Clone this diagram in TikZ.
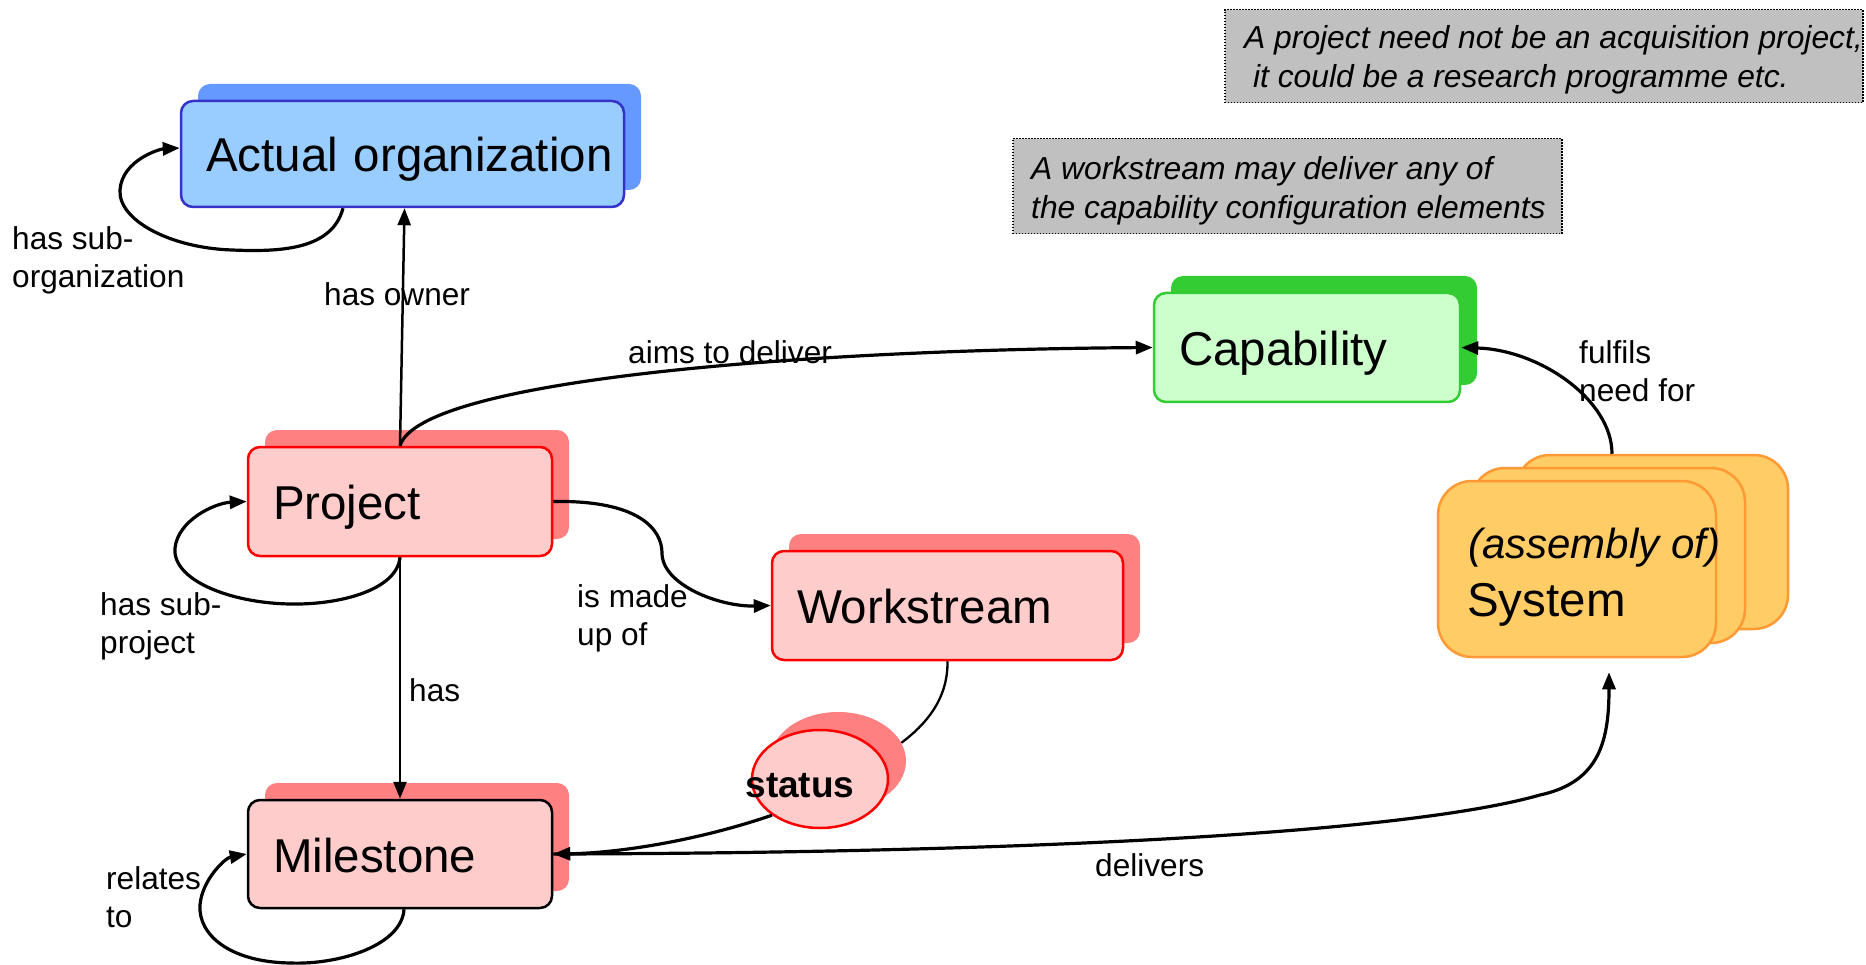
\documentclass[tikz,border=0pt]{standalone}
\usepackage{fontspec}
\setmainfont{Liberation Sans}
\usetikzlibrary{arrows.meta,shapes.geometric}
\definecolor{orgF}{HTML}{99CCFF}
\definecolor{orgD}{HTML}{3333CC}
\definecolor{orgB}{HTML}{6699FF}
\definecolor{redF}{HTML}{FFCCCC}
\definecolor{redD}{HTML}{FF0000}
\definecolor{redB}{HTML}{FF8080}
\definecolor{capF}{HTML}{CCFFCC}
\definecolor{capD}{HTML}{33CC33}
\definecolor{sysF}{HTML}{FFCC66}
\definecolor{sysD}{HTML}{FF9933}
\definecolor{noteF}{HTML}{C0C0C0}
\begin{document}
\begin{tikzpicture}[x=1pt,y=-1pt,
  front/.style={rectangle, rounded corners=12pt, line width=2.5pt, inner xsep=25pt, inner ysep=0pt, align=left, text height=37pt, text depth=1pt, font=\fontsize{47.5}{53}\selectfont},
  back/.style={rectangle, rounded corners=12pt, draw=none, inner sep=0pt},
  sysbox/.style={rectangle, rounded corners=34pt, fill=sysF, draw=sysD, line width=2.5pt, inner sep=0pt},
  lbl/.style={font=\fontsize{31.6}{38}\selectfont, align=left, inner sep=0pt, anchor=west},
  conn/.style={line width=3.2pt, -{Triangle[length=17pt,width=13pt]}},
  thinconn/.style={line width=2.5pt, -{Triangle[length=17pt,width=13pt]}},
  link/.style={line width=2.3pt},
  note/.style={rectangle, fill=noteF, draw=black, line width=1.5pt, dash pattern=on 1.5pt off 1.5pt, inner sep=0pt, anchor=north west},
  notetext/.style={font=\fontsize{31.8}{39}\selectfont\itshape, align=left, inner sep=0pt, anchor=west},
]
\fill[white] (0,0) rectangle (1866,965);
\useasboundingbox (0,0) rectangle (1866,965);

% notes
\node[note, minimum width=638pt, minimum height=93pt] (note1) at (1224,9) {};
\node[notetext] (note1txt) at (1244,59.5)
  {A project need not be an acquisition project,\\\mbox{ it could be a research programme etc.}};
\node[note, minimum width=549pt, minimum height=95pt] (note2) at (1012,138) {};
\node[notetext] (note2txt) at (1031,191)
  {A workstream may deliver any of\\the capability configuration elements};

% back shapes
\node[back, fill=orgB, minimum width=443pt, minimum height=106pt] (orgbk) at (419.5,137) {};
\node[back, fill=redB, minimum width=304pt, minimum height=109pt] (projbk) at (417,484.5) {};
\node[back, fill=redB, minimum width=304pt, minimum height=108pt] (milbk) at (417,837) {};
\node[back, fill=redB, minimum width=351pt, minimum height=109pt] (wsbk) at (964.5,588.5) {};
\node[back, fill=capD, minimum width=306pt, minimum height=109pt] (capbk) at (1324,330.5) {};
\node[ellipse, fill=redB, draw=none, minimum width=136pt, minimum height=98pt, inner sep=0pt] (statusbk) at (838,761) {};

% system stack
\node[sysbox, minimum width=272pt, minimum height=174pt] (sysbk) at (1652,542) {};
\node[sysbox, minimum width=274pt, minimum height=175pt] (sysmid) at (1608,555.5) {};
\node[sysbox, minimum width=278pt, minimum height=176pt] (sys) at (1577,569) {};
\node[anchor=base west, inner sep=0pt, font=\fontsize{42}{50}\selectfont\itshape] (systxt1) at (1468,558) {(assembly of)};
\node[anchor=base west, inner sep=0pt, font=\fontsize{47.5}{53}\selectfont] (systxt2) at (1467,616) {System};

% front boxes
\node[front, fill=orgF, draw=orgD, text width=393pt, minimum height=106pt] (org) at (402.5,154) {\mbox{Actual organization}};
\node[front, fill=redF, draw=redD, text width=254pt, minimum height=109pt] (proj) at (400,501.5) {Project};
\node[front, fill=redF, draw=black, text width=254pt, minimum height=108pt] (mil) at (400,854) {Milestone};
\node[front, fill=redF, draw=redD, text width=301pt, minimum height=109pt] (ws) at (947.5,605.5) {Workstream};
\node[front, fill=capF, draw=capD, text width=256pt, minimum height=109pt] (cap) at (1307,347.5) {Capability};
\node[ellipse, fill=redF, draw=redD, line width=2.5pt, minimum width=136pt, minimum height=98pt, inner sep=0pt] (status) at (820,779) {};
\node[font=\fontsize{37}{40}\selectfont\bfseries, inner sep=0pt] (statustxt) at (800,786) {status};

% connectors
\draw[conn] ([xshift=-59.5pt]org.south) .. controls (332,250) and (280,252) .. (232,250)
  .. controls (170,248) and (118,220) .. (120,190)
  .. controls (122,160) and (160,149) .. ([yshift=6pt]org.west);
\draw[thinconn] (proj.north) -- ([xshift=2pt]org.south);
\draw[conn] (proj.north) .. controls (420,380) and (800,350) .. (cap.west);
\draw[conn] (proj.east) .. controls (640,500) and (662,530) .. (662,553)
  .. controls (662,585) and (720,607) .. (ws.west);
\draw[thinconn] (proj.south) -- (mil.north);
\draw[conn] (proj.south) .. controls (397,590) and (340,605) .. (290,604)
  .. controls (230,603) and (172,580) .. (175,548)
  .. controls (178,520) and (215,503) .. (proj.west);
\draw[conn] ([xshift=4pt]mil.south) .. controls (402,945) and (340,965) .. (290,963)
  .. controls (230,962) and (198,935) .. (200,905)
  .. controls (202,880) and (225,858) .. (mil.west);
\draw[link] (ws.south) .. controls (948,700) and (925,725) .. (statusbk.16);
\draw[conn] (status.217) .. controls (700,840) and (620,853) .. (mil.east);
\draw[conn] (mil.east) .. controls (1000,853) and (1400,835) .. (1540,795)
  .. controls (1600,782) and (1609,740) .. ([xshift=32pt,yshift=-14pt]sys.south);
\draw[conn] ([xshift=-40pt]sysbk.north) .. controls (1612,400) and (1540,350) .. (cap.east);

% labels
\node[lbl] (l1) at (12,260) {has sub-\\organization};
\node[lbl] (l2) at (324,294) {has owner};
\node[lbl] (l3) at (628,352) {aims to deliver};
\node[lbl] (l4) at (1579,371) {fulfils\\need for};
\node[lbl] (l5) at (100,626) {has sub-\\project};
\node[lbl] (l6) at (577,618) {is made\\up of};
\node[lbl] (l7) at (409,690) {has};
\node[lbl] (l8) at (106,897) {relates\\to};
\node[lbl] (l9) at (1095,865) {delivers};
\end{tikzpicture}
\end{document}
